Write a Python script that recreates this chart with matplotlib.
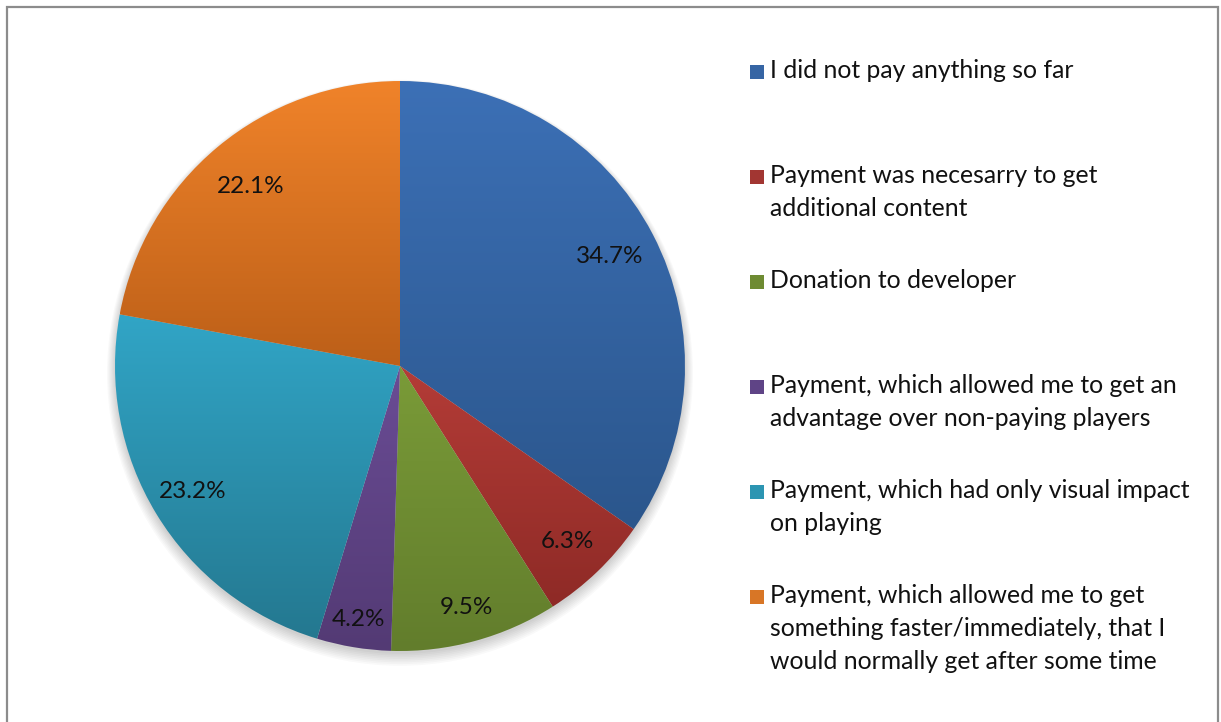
import matplotlib.pyplot as plt
import numpy as np
from matplotlib.colors import to_rgb
from matplotlib.patches import Rectangle

plt.rcParams["font.family"] = ["Lato", "DejaVu Sans"]

labels = [
    "I did not pay anything so far",
    "Payment was necesarry to get\nadditional content",
    "Donation to developer",
    "Payment, which allowed me to get an\nadvantage over non-paying players",
    "Payment, which had only visual impact\non playing",
    "Payment, which allowed me to get\nsomething faster/immediately, that I\nwould normally get after some time",
]
shares = [34.7, 6.3, 9.5, 4.2, 23.2, 22.1]
# light (top) and dark (bottom) shade of each slice
tops = ["#3C70B6", "#B43C37", "#7A9B38", "#6A4C95", "#31A5C6", "#F0832A"]
bottoms = ["#2B568C", "#8E2A26", "#627D2C", "#533A74", "#247890", "#BC5F18"]
# how far out each percentage sits, as a share of the radius
label_r = [0.83, 0.85, 0.88, 0.90, 0.85, 0.82]

W, H = 1221, 722
fig = plt.figure(figsize=(W / 100, H / 100), dpi=100)

# grey frame round the chart area
fig.patches.append(Rectangle((7 / W, -0.05), 1211 / W, 1 - 7 / H + 0.05,
                             transform=fig.transFigure, fill=False,
                             edgecolor="#8c8c8c", linewidth=1.6))

cx, cy, r = 400, 366, 285
ax = fig.add_axes([(cx - r) / W, (H - cy - r) / H, 2 * r / W, 2 * r / H])

# soft shadow under the pie
for k in range(8):
    ax.add_patch(plt.Circle((0.0, -0.010 - 0.002 * k), 1.0 + 0.004 * k,
                            color="black", alpha=0.025, zorder=0, lw=0,
                            clip_on=False))

wedges, texts, autotexts = ax.pie(
    shares, colors=tops, startangle=90, counterclock=False,
    autopct="%.1f%%", pctdistance=0.82, radius=1.0,
    wedgeprops=dict(linewidth=0),
    textprops=dict(fontsize=17.5, color="#111111"))

ax.set_xlim(-1.0, 1.0)
ax.set_ylim(-1.0, 1.0)
ax.set_aspect("equal")
ax.axis("off")

# vertical light-to-dark shading over each slice's own height
grad = np.linspace(0, 1, 256)[:, None, None]
for w, t, b in zip(wedges, tops, bottoms):
    ext = w.get_path().get_extents(w.get_patch_transform())
    img = np.array(to_rgb(t)) * (1 - grad) + np.array(to_rgb(b)) * grad
    im = ax.imshow(img, extent=(ext.x0, ext.x1, ext.y0, ext.y1),
                   origin="upper", aspect="auto", zorder=1.5,
                   interpolation="bilinear")
    im.set_clip_path(w)
    w.set_facecolor("none")
    w.set_zorder(1.6)

ax.set_xlim(-1.0, 1.0)
ax.set_ylim(-1.0, 1.0)

for w, t, d in zip(wedges, autotexts, label_r):
    ang = np.deg2rad((w.theta1 + w.theta2) / 2)
    t.set_position((d * np.cos(ang), d * np.sin(ang)))
    t.set_zorder(3)

# legend, one slot every 105 px
y0, step = 72, 105
for i, (lab, c) in enumerate(zip(labels, tops)):
    y = y0 + i * step
    fig.patches.append(Rectangle((750 / W, 1 - (y + 7) / H), 14 / W, 14 / H,
                                 transform=fig.transFigure,
                                 facecolor=np.array(to_rgb(c)) * 0.9,
                                 edgecolor="none"))
    fig.text(770 / W, 1 - (y - 13) / H, lab, fontsize=17.8, color="#111111",
             va="top", ha="left", linespacing=1.52)

fig.savefig("out.png", dpi=100)
